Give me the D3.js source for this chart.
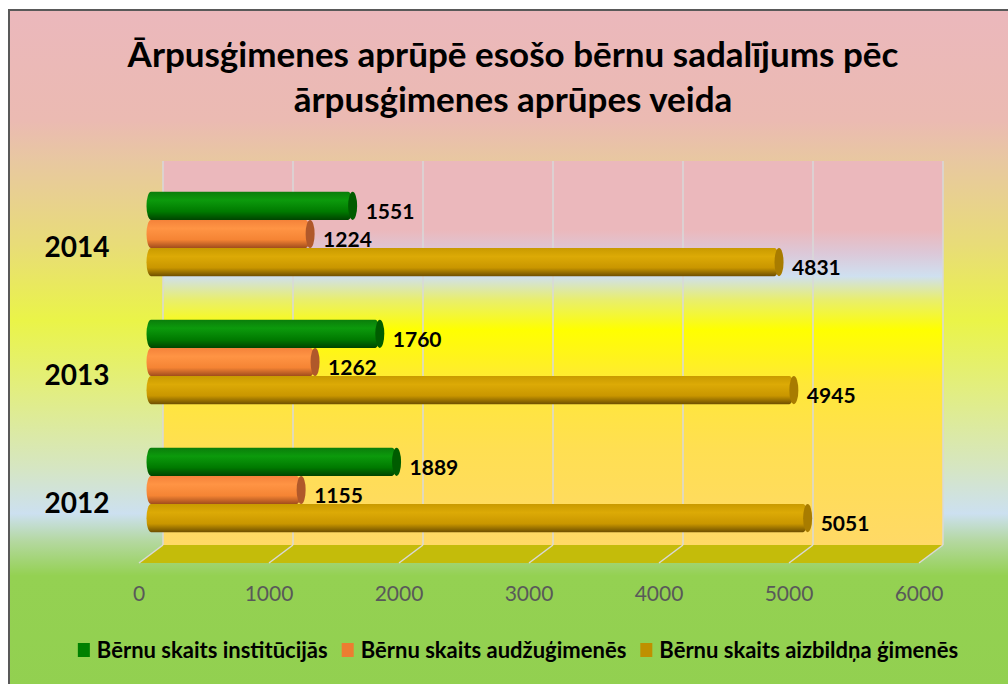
<!DOCTYPE html>
<html>
<head>
<meta charset="utf-8">
<script src="https://cdn.jsdelivr.net/npm/d3@7"></script>
<style>
  body { margin: 0; background: #fff; }
  svg { display: block; font-family: Lato, "Open Sans", sans-serif; }
</style>
</head>
<body>
<svg id="chart" width="1008" height="684"></svg>
<script>
// chart data
var years = ['2014', '2013', '2012'];
var seriesNames = ['Bērnu skaits institūcijās', 'Bērnu skaits audžuģimenēs', 'Bērnu skaits aizbildņa ģimenēs'];
var institucijas = [1551, 1760, 1889];
var audzugimenes = [1224, 1262, 1155];
var aizbildna = [4831, 4945, 5051];
var tickValues = [0, 1000, 2000, 3000, 4000, 5000, 6000];
var titleLines = ['Ārpusģimenes aprūpē esošo bērnu sadalījums pēc', 'ārpusģimenes aprūpes veida'];

var seriesValues = [institucijas, audzugimenes, aizbildna];
var colors = [
  { stops: ['#0b7d0b', '#0c9a0c', '#007a00', '#004400'], cap: '#005c00', legend: '#008000' },
  { stops: ['#f4823a', '#ff9444', '#f58434', '#a04c1c'], cap: '#b0582a', legend: '#ed7d31' },
  { stops: ['#c99a00', '#dcaa06', '#c99600', '#6e4f00'], cap: '#a87c00', legend: '#bf9000' }
];

var svg = d3.select('#chart');
var defs = svg.append('defs');

// background gradient
var bg = defs.append('linearGradient').attr('id', 'bg').attr('x1', 0).attr('y1', 0).attr('x2', 0).attr('y2', 1);
[[0, '#ebb8bc'], [0.16, '#ebbab2'], [0.22, '#e8c8a0'], [0.34, '#e8dc78'], [0.45, '#eaf448'], [0.55, '#e2ee80'],
 [0.66, '#d6e6c0'], [0.73, '#cce0f0'], [0.77, '#b4d8a0'], [0.82, '#94d152'], [1, '#92d050']]
  .forEach(function(s){ bg.append('stop').attr('offset', s[0]).attr('stop-color', s[1]); });

// back wall gradient
var wall = defs.append('linearGradient').attr('id', 'wall').attr('x1', 0).attr('y1', 0).attr('x2', 0).attr('y2', 1);
[[0, '#ebb8bc'], [0.18, '#ebb8bc'], [0.24, '#dcc8d8'], [0.30, '#cfe0f0'], [0.36, '#e8ee70'], [0.44, '#ffff00'],
 [0.58, '#ffe838'], [0.75, '#ffdf52'], [1, '#ffd966']]
  .forEach(function(s){ wall.append('stop').attr('offset', s[0]).attr('stop-color', s[1]); });

colors.forEach(function(c, i){
  var g = defs.append('linearGradient').attr('id', 'cyl' + i).attr('x1', 0).attr('y1', 0).attr('x2', 0).attr('y2', 1);
  [0, 0.3, 0.7, 1].forEach(function(o, j){ g.append('stop').attr('offset', o).attr('stop-color', c.stops[j]); });
});

svg.append('rect').attr('x', 9).attr('y', 10).attr('width', 1010).attr('height', 690)
  .attr('fill', 'url(#bg)').attr('stroke', '#595959').attr('stroke-width', 2);

// title
svg.append('g').selectAll('text')
  .data(titleLines)
  .enter()
  .append('text')
  .attr('x', 513)
  .attr('y', function(d, i){ return 67 + i * 45; })
  .attr('text-anchor', 'middle')
  .attr('font-size', 35)
  .attr('font-weight', 'bold')
  .attr('fill', '#000')
  .text(function(d){ return d; });

// 3d geometry
var depthX = 24, depthY = 18;
var backLeft = 163, wallTop = 161, wallBottom = 545;
var x = d3.scaleLinear().domain([0, 6000]).range([0, 780]);
var y = d3.scaleBand().domain(years).range([wallTop, wallBottom]).paddingInner(0.34).paddingOuter(0.17);
var ySub = d3.scaleBand().domain(d3.range(seriesNames.length)).range([0, y.bandwidth()]);

// back wall
svg.append('rect')
  .attr('x', backLeft).attr('y', wallTop)
  .attr('width', x(6000)).attr('height', wallBottom - wallTop)
  .attr('fill', 'url(#wall)');

// floor
svg.append('path')
  .attr('d', 'M' + backLeft + ',' + wallBottom + 'L' + (backLeft + x(6000)) + ',' + wallBottom +
    'L' + (backLeft + x(6000) - depthX) + ',' + (wallBottom + depthY) + 'L' + (backLeft - depthX) + ',' + (wallBottom + depthY) + 'Z')
  .attr('fill', '#c4bc0a');

// gridlines on wall and floor
var grid = svg.append('g').attr('stroke', '#d9d9d9').attr('stroke-width', 1.5).attr('fill', 'none');
grid.selectAll('line.v')
  .data(tickValues)
  .enter()
  .append('line')
  .attr('x1', function(d){ return backLeft + x(d); })
  .attr('x2', function(d){ return backLeft + x(d); })
  .attr('y1', wallTop).attr('y2', wallBottom);
grid.selectAll('line.d')
  .data(tickValues)
  .enter()
  .append('line')
  .attr('x1', function(d){ return backLeft + x(d); })
  .attr('y1', wallBottom)
  .attr('x2', function(d){ return backLeft + x(d) - depthX; })
  .attr('y2', wallBottom + depthY);

// axis labels
svg.append('g').selectAll('text')
  .data(tickValues)
  .enter()
  .append('text')
  .attr('x', function(d){ return backLeft - depthX + x(d); })
  .attr('y', 601)
  .attr('text-anchor', 'middle')
  .attr('font-size', 21)
  .attr('fill', '#595959')
  .text(function(d){ return d; });

// year labels
svg.append('g').selectAll('text')
  .data(years)
  .enter()
  .append('text')
  .attr('x', 77)
  .attr('y', function(d){ return y(d) + y.bandwidth() / 2 + depthY + 14; })
  .attr('text-anchor', 'middle')
  .attr('font-size', 28)
  .attr('font-weight', 'bold')
  .attr('fill', '#000')
  .text(function(d){ return d; });

// cylinders (drawn at half depth)
var midX = backLeft - depthX / 2, midY = depthY / 2;
var capRx = 4.5;
years.forEach(function(year, yi){
  var gYear = svg.append('g').attr('transform', 'translate(' + midX + ',' + (y(year) + midY) + ')');
  seriesValues.forEach(function(vals, si){
    var v = vals[yi];
    var h = ySub.bandwidth();
    var top = ySub(si);
    gYear.append('rect')
      .attr('x', -capRx)
      .attr('y', top)
      .attr('width', x(v) + capRx)
      .attr('height', h)
      .attr('rx', capRx)
      .attr('ry', h / 2)
      .attr('fill', 'url(#cyl' + si + ')');
    gYear.append('ellipse')
      .attr('cx', x(v))
      .attr('cy', top + h / 2)
      .attr('rx', capRx)
      .attr('ry', h / 2)
      .attr('fill', colors[si].cap);
    gYear.append('text')
      .attr('x', x(v) + 13)
      .attr('y', top + h / 2 + 13)
      .attr('font-size', 21)
      .attr('font-weight', 'bold')
      .attr('fill', '#000')
      .text(v);
  });
});

// legend
var legend = svg.append('g').attr('transform', 'translate(0,651)');
var items = legend.selectAll('g')
  .data(seriesNames)
  .enter()
  .append('g');
items.append('rect')
  .attr('x', 0).attr('y', -8).attr('width', 12).attr('height', 14)
  .attr('fill', function(d, i){ return colors[i].legend; });
items.append('text')
  .attr('x', 19).attr('y', 7)
  .attr('font-size', 22)
  .attr('font-weight', 'bold')
  .attr('fill', '#000')
  .text(function(d){ return d; });
var widths = [];
items.each(function(){ widths.push(this.getBBox().width); });
var total = d3.sum(widths) + 14 * (widths.length - 1);
var cursor = 518 - total / 2;
items.attr('transform', function(d, i){
  var tx = cursor;
  cursor += widths[i] + 14;
  return 'translate(' + tx + ',0)';
});
</script>
</body>
</html>
